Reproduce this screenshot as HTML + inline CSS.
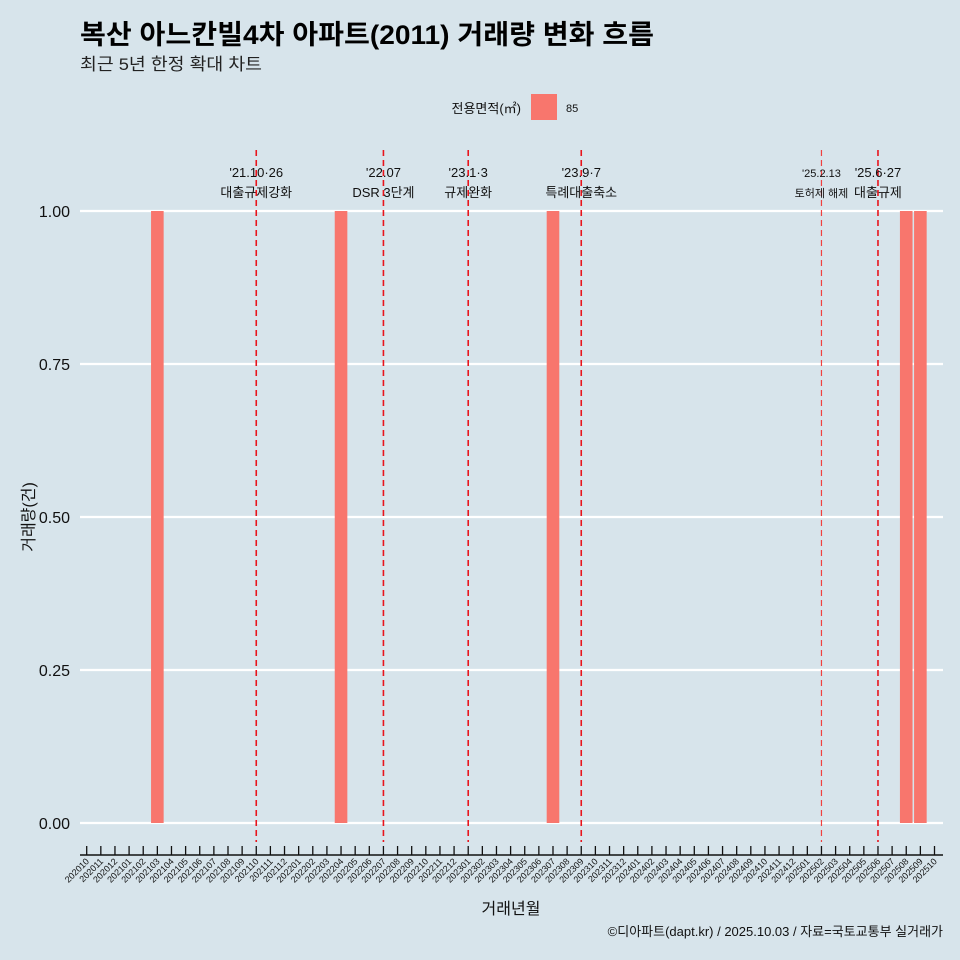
<!DOCTYPE html>
<html><head><meta charset="utf-8"><style>
html,body{margin:0;padding:0;background:#d7e4eb;}
svg{display:block;font-family:"Liberation Sans","Noto Sans CJK KR",sans-serif;}
</style></head><body>
<svg id="chart" width="960" height="960" viewBox="0 0 960 960">
<rect x="0" y="0" width="960" height="960" fill="#d7e4eb"/>
<text x="80" y="44" font-size="27" font-weight="bold" fill="#000" textLength="574" lengthAdjust="spacingAndGlyphs">복산 아느칸빌4차 아파트(2011) 거래량 변화 흐름</text>
<text x="80" y="70" font-size="17" fill="#222" textLength="182" lengthAdjust="spacingAndGlyphs">최근 5년 한정 확대 차트</text>
<g>
<text x="521" y="113" font-size="13" text-anchor="end" fill="#111">전용면적(㎡)</text>
<rect x="531" y="94" width="26" height="26" fill="#f8766d"/>
<text x="566" y="112" font-size="11" fill="#111">85</text>
</g>
<g id="grid"></g><g id="bars"></g><g id="events"></g><g id="xaxis"></g><g id="yaxis"></g>
<text transform="translate(34,517) rotate(-90)" font-size="16" text-anchor="middle" fill="#111">거래량(건)</text>
<text x="511" y="914" font-size="16" text-anchor="middle" fill="#111">거래년월</text>
<text x="943" y="936" font-size="13" text-anchor="end" fill="#111">©디아파트(dapt.kr) / 2025.10.03 / 자료=국토교통부 실거래가</text>
</svg>
<script>
const months = [];
for (let y = 2020, m = 10; y * 100 + m <= 202510; ) { months.push(String(y * 100 + m)); m++; if (m > 12) { m = 1; y++; } }
const barMonths = ["202103", "202204", "202307", "202508", "202509"];
const barValues = [1, 1, 1, 1, 1];
const yTicks = [0, 0.25, 0.5, 0.75, 1.0];
const yTickLabels = ["0.00", "0.25", "0.50", "0.75", "1.00"];
const eventMonths = ["202110", "202207", "202301", "202309", "202502", "202506"];
const eventDates = ["'21.10·26", "'22.07", "'23.1·3", "'23.9·7", "'25.2.13", "'25.6·27"];
const eventNames = ["대출규제강화", "DSR 3단계", "규제완화", "특례대출축소", "토허제 해제", "대출규제"];

const NS = "http://www.w3.org/2000/svg";
const x0 = 86.7, step = 14.13;
const xs = i => x0 + i * step;
const xm = m => xs(months.indexOf(m));
const y = v => 823 - v * 612;
function mk(tag, attrs, parent) { const e = document.createElementNS(NS, tag); for (const k in attrs) e.setAttribute(k, attrs[k]); parent.appendChild(e); return e; }
const grid = document.getElementById("grid"), bars = document.getElementById("bars"), ev = document.getElementById("events"), xa = document.getElementById("xaxis"), ya = document.getElementById("yaxis");

yTicks.forEach((t, i) => {
  const l = mk("line", {x1: 80, x2: 943, y1: y(t), y2: y(t), stroke: "#fff", "stroke-width": 2.2}, grid);
  
  
  const tx = mk("text", {x: 70, y: y(t) + 6, "font-size": 16, "text-anchor": "end", fill: "#111"}, ya);
  tx.textContent = yTickLabels[i];
  
  
});

barMonths.forEach((m, i) => {
  const cx = xm(m);
  const r = mk("rect", {x: cx - 6.3, y: y(barValues[i]), width: 12.6, height: y(0) - y(barValues[i]), fill: "#f8766d"}, bars);
  
  
});

eventMonths.forEach((m, i) => {
  const cx = xm(m);
  const thin = m === "202502";
  const l = mk("line", {x1: cx, x2: cx, y1: 150, y2: 842, stroke: thin ? "#f04040" : "#e8141c", "stroke-width": thin ? 1.2 : 1.6, "stroke-dasharray": "6,4"}, ev);
  
  
  const fs = thin ? 11 : 13;
  const t1 = mk("text", {x: cx, y: 177, "font-size": fs, "text-anchor": "middle", fill: "#111"}, ev);
  t1.textContent = eventDates[i];
  
  
  const t2 = mk("text", {x: cx, y: 197, "font-size": fs, "text-anchor": "middle", fill: "#111"}, ev);
  t2.textContent = eventNames[i];
  
  
});

const ax = mk("line", {x1: 80, x2: 943, y1: 855, y2: 855, stroke: "#111", "stroke-width": 1.5}, xa);


months.forEach((m, i) => {
  const cx = xs(i);
  const tk = mk("line", {x1: cx, x2: cx, y1: 846, y2: 855, stroke: "#111", "stroke-width": 1.3}, xa);
  
  
  const tx = mk("text", {x: cx + 3, y: 862, "font-size": 9, "text-anchor": "end", fill: "#111", transform: `rotate(-45 ${cx + 3} 862)`}, xa);
  tx.textContent = m;
  
  
});
</script>
</body></html>
